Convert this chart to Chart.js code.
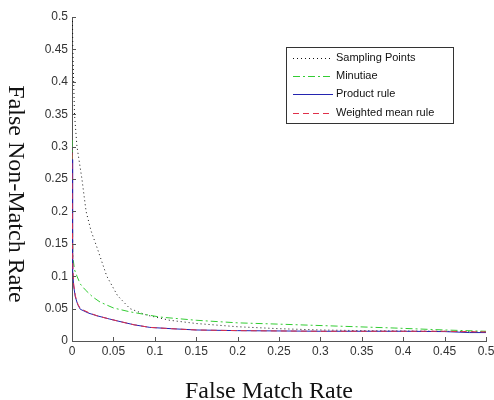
<!DOCTYPE html>
<html>
<head>
<meta charset="utf-8">
<script src="https://cdn.jsdelivr.net/npm/chart.js@4"></script>
<style>
  html, body { margin: 0; padding: 0; background: #fff; }
  #wrap { width: 494px; height: 400px; }
</style>
</head>
<body>
<div id="wrap"><canvas id="roc"></canvas></div>
<script>
// ---- data ----
const seriesNames = ['Sampling Points', 'Minutiae', 'Product rule', 'Weighted mean rule'];

const samplingFMR  = [0.0005, 0.001, 0.002, 0.003, 0.006, 0.012, 0.017, 0.023, 0.03, 0.042, 0.055, 0.07, 0.09, 0.118, 0.15, 0.2, 0.25, 0.3, 0.35, 0.4, 0.45, 0.5];
const samplingFNMR = [0.5, 0.45, 0.4, 0.35, 0.3, 0.25, 0.2, 0.17, 0.145, 0.1, 0.07, 0.05, 0.04, 0.032, 0.027, 0.022, 0.019, 0.017, 0.016, 0.0155, 0.015, 0.014];

const minutiaeFMR  = [0, 0.0005, 0.001, 0.003, 0.006, 0.01, 0.016, 0.025, 0.034, 0.05, 0.07, 0.106, 0.15, 0.2, 0.25, 0.32, 0.39, 0.45, 0.5];
const minutiaeFNMR = [0.31, 0.2, 0.13, 0.11, 0.1, 0.088, 0.079, 0.068, 0.06, 0.051, 0.045, 0.037, 0.032, 0.028, 0.026, 0.023, 0.02, 0.017, 0.015];

const productFMR  = [0, 0.0005, 0.001, 0.002, 0.004, 0.007, 0.01, 0.02, 0.03, 0.045, 0.058, 0.075, 0.094, 0.12, 0.15, 0.2, 0.3, 0.4, 0.45, 0.48, 0.5];
const productFNMR = [0.28, 0.16, 0.11, 0.085, 0.068, 0.056, 0.049, 0.043, 0.039, 0.034, 0.03, 0.025, 0.021, 0.019, 0.017, 0.016, 0.015, 0.015, 0.0145, 0.013, 0.013];

const weightedFMR  = [0, 0.0005, 0.001, 0.002, 0.004, 0.007, 0.01, 0.02, 0.03, 0.045, 0.058, 0.075, 0.094, 0.12, 0.15, 0.2, 0.3, 0.4, 0.45, 0.5];
const weightedFNMR = [0.29, 0.17, 0.115, 0.088, 0.07, 0.057, 0.05, 0.044, 0.039, 0.034, 0.03, 0.025, 0.021, 0.019, 0.017, 0.016, 0.015, 0.015, 0.015, 0.014];

const xTitle = 'False Match Rate';
const yTitle = 'False Non-Match Rate';

function pts(xs, ys) { return xs.map((x, i) => ({ x: x, y: ys[i] })); }

const tickFont = { family: 'Liberation Sans', size: 12 };
const fmtTick = v => String(Number(v.toFixed(2)));

// inward tick marks, axis titles and legend box (MATLAB look)
const matlabPlugin = {
    id: 'matlab',
    afterDraw(chart) {
        const ctx = chart.ctx;
        const xs = chart.scales.x, ys = chart.scales.y;
        const area = chart.chartArea;
        ctx.save();
        ctx.strokeStyle = '#555';
        ctx.lineWidth = 1;
        ctx.beginPath();
        xs.ticks.forEach((t, i) => {
            const px = Math.round(xs.getPixelForTick(i)) + 0.5;
            ctx.moveTo(px, area.bottom);
            ctx.lineTo(px, area.bottom - 4);
        });
        ys.ticks.forEach((t, i) => {
            const py = Math.round(ys.getPixelForTick(i)) + 0.5;
            ctx.moveTo(area.left, py);
            ctx.lineTo(area.left + 4, py);
        });
        ctx.stroke();

        // titles
        ctx.fillStyle = '#111';
        ctx.font = '24px "Liberation Serif"';
        ctx.textAlign = 'center';
        ctx.textBaseline = 'middle';
        ctx.fillText(xTitle, 269, 392);
        ctx.translate(15, 194);
        ctx.rotate(Math.PI / 2);
        ctx.fillText(yTitle, 0, 0);
        ctx.restore();

        // legend
        ctx.save();
        const lx = 286, ly = 47, lw = 167, lh = 76;
        ctx.fillStyle = '#fff';
        ctx.fillRect(lx, ly, lw, lh);
        ctx.strokeStyle = '#333';
        ctx.lineWidth = 1;
        ctx.strokeRect(lx + 0.5, ly + 0.5, lw, lh);
        ctx.font = '11px "Liberation Sans"';
        ctx.textAlign = 'left';
        ctx.textBaseline = 'middle';
        const rows = [58, 76, 94, 113];
        chart.data.datasets.forEach((ds, i) => {
            const y = rows[i] + 0.5;
            ctx.strokeStyle = ds.borderColor;
            ctx.lineWidth = ds.borderWidth;
            ctx.setLineDash(ds.borderDash || []);
            ctx.beginPath();
            ctx.moveTo(293, y);
            ctx.lineTo(333, y);
            ctx.stroke();
            ctx.setLineDash([]);
            ctx.fillStyle = '#111';
            ctx.fillText(ds.label, 336, rows[i]);
        });
        ctx.restore();
    }
};

new Chart(document.getElementById('roc'), {
    type: 'line',
    data: {
        datasets: [
            { label: seriesNames[0], data: pts(samplingFMR, samplingFNMR), borderColor: '#111', borderWidth: 1, borderDash: [1, 3], order: 3 },
            { label: seriesNames[1], data: pts(minutiaeFMR, minutiaeFNMR), borderColor: '#33cc33', borderWidth: 1, borderDash: [7, 3, 2, 3], order: 2 },
            { label: seriesNames[2], data: pts(productFMR, productFNMR), borderColor: '#2424b0', borderWidth: 1, order: 1 },
            { label: seriesNames[3], data: pts(weightedFMR, weightedFNMR), borderColor: '#e0304a', borderWidth: 1, borderDash: [6, 4], order: 0 }
        ]
    },
    options: {
        responsive: true,
        maintainAspectRatio: false,
        animation: false,
        elements: { point: { radius: 0 }, line: { tension: 0, fill: false } },
        layout: { padding: { top: 17, right: 8, left: 0, bottom: 0 } },
        plugins: { legend: { display: false }, tooltip: { enabled: false } },
        scales: {
            x: {
                type: 'linear', min: 0, max: 0.5,
                ticks: { stepSize: 0.05, color: '#333', font: tickFont, padding: 3, maxRotation: 0, callback: fmtTick },
                grid: { drawOnChartArea: false, drawTicks: false },
                border: { color: '#555' },
                afterFit(s) { s.height = 59; s.paddingLeft = 0; s.paddingRight = 0; }
            },
            y: {
                type: 'linear', min: 0, max: 0.5,
                ticks: { stepSize: 0.05, color: '#333', font: tickFont, padding: 4, callback: fmtTick },
                grid: { drawOnChartArea: false, drawTicks: false },
                border: { color: '#555' },
                afterFit(s) { s.width = 72; s.paddingTop = 0; s.paddingBottom = 0; }
            }
        }
    },
    plugins: [matlabPlugin]
});
</script>
</body>
</html>
